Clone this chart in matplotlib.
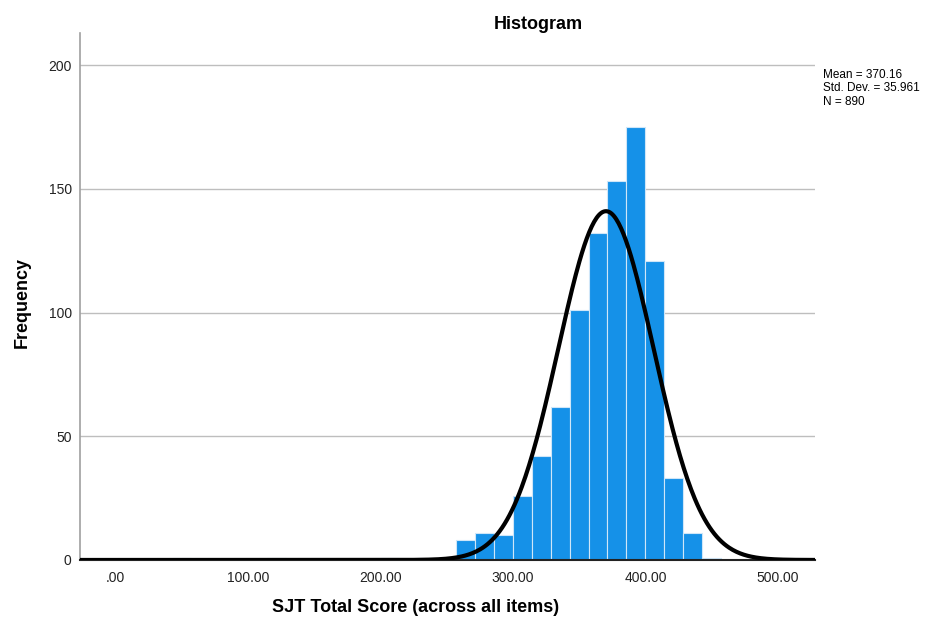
import numpy as np
import matplotlib
matplotlib.use('Agg')
import matplotlib.pyplot as plt

plt.rcParams['font.family'] = ['Liberation Sans', 'DejaVu Sans']

# Histogram data
bin_width = 14.28
counts = [0, 0, 0, 1, 0, 0, 0, 0, 1, 0, 0, 0, 0, 0, 1, 0, 1, 0,
          8, 11, 10, 26, 42, 62, 101, 132, 153, 175, 121, 33, 11, 1]
mean = 370.16
std_dev = 35.961
n = 890

x_ticks = [0, 100, 200, 300, 400, 500]
x_tick_labels = ['.00', '100.00', '200.00', '300.00', '400.00', '500.00']
y_ticks = [0, 50, 100, 150, 200]

edges = np.arange(len(counts) + 1) * bin_width

fig = plt.figure(figsize=(9.37, 6.24), dpi=100)
ax = fig.add_axes([0.0854, 0.1026, 0.7844, 0.8444])

ax.bar(edges[:-1], counts, width=bin_width, align='edge',
       color='#1591E8', edgecolor='#CFE6F8', linewidth=0.8, zorder=2)

# Normal curve scaled to the histogram
xs = np.linspace(-27, 528, 600)
pdf = np.exp(-0.5 * ((xs - mean) / std_dev) ** 2) / (std_dev * np.sqrt(2 * np.pi))
ax.plot(xs, pdf * n * bin_width, color='black', linewidth=3, zorder=3)

ax.set_xlim(-27, 528)
ax.set_ylim(0, 213)
ax.set_xticks(x_ticks)
ax.set_xticklabels(x_tick_labels)
ax.set_yticks(y_ticks)
ax.tick_params(length=0, labelsize=10, colors='#222222')
ax.tick_params(axis='x', pad=8)
ax.tick_params(axis='y', pad=6)

ax.yaxis.grid(True, color='#BEBEBE', linewidth=1, zorder=0)
ax.set_axisbelow(True)
for side in ['top', 'right']:
    ax.spines[side].set_visible(False)
ax.spines['left'].set_color('#A0A0A0')
ax.spines['left'].set_linewidth(1.2)
ax.spines['bottom'].set_color('#222222')
ax.spines['bottom'].set_linewidth(1.5)

fig.text(0.574, 0.961, 'Histogram', ha='center', va='center',
         fontsize=13, fontweight='bold')
fig.text(0.444, 0.026, 'SJT Total Score (across all items)', ha='center',
         va='center', fontsize=13, fontweight='bold')
fig.text(0.024, 0.515, 'Frequency', ha='center', va='center', rotation=90,
         fontsize=13, fontweight='bold')
fig.text(0.878, 0.890, f'Mean = {mean:.2f}\nStd. Dev. = {std_dev:.3f}\nN = {n}',
         ha='left', va='top', fontsize=8.5, linespacing=1.2)

fig.savefig('out.png', dpi=100)
